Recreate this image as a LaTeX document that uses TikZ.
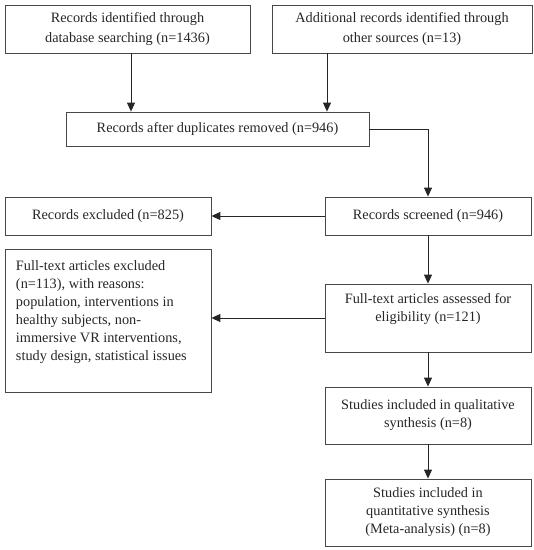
\documentclass[tikz,border=0pt]{standalone}
\usepackage{fontspec}
\setmainfont{Liberation Serif}
\usetikzlibrary{arrows.meta}
\begin{document}
\begin{tikzpicture}[x=1pt,y=-1pt,
  box/.style={draw=black!72, line width=0.8pt, inner sep=0pt, align=center, text=black!85,
    font=\fontsize{14.3}{18}\selectfont},
  topbox/.style={box, font=\fontsize{14.3}{19.5}\selectfont},
  arr/.style={draw=black!85, line width=0.9pt, -{Triangle[length=9pt,width=8pt]}},
  ln/.style={draw=black!80, line width=0.8pt}]
\useasboundingbox (0,0) rectangle (534,550);
\node[topbox, minimum width=245pt, minimum height=48pt] (db) at (127.5,29)
  {Records identified through\\database searching (n=1436)};
\node[topbox, minimum width=260pt, minimum height=48pt] (other) at (402,29)
  {Additional records identified through\\other sources (n=13)};
\node[box, minimum width=303pt, minimum height=34pt] (dup) at (217.5,129)
  {Records after duplicates removed (n=946)};
\node[box, minimum width=206pt, minimum height=38pt] (excl) at (108,216)
  {Records excluded (n=825)};
\node[box, minimum width=206pt, minimum height=38pt] (screen) at (428,216)
  {Records screened (n=946)};
\node[box, minimum width=206pt, minimum height=143pt] (ftexcl) at (108,320.5)
  {\begin{minipage}[c][143pt][t]{206pt}\vspace*{12pt}\raggedright\leftskip=11pt
   Full-text articles excluded\\
   (n=113), with reasons:\\
   population, interventions in\\
   healthy subjects, non-\\
   immersive VR interventions,\\
   study design, statistical issues\end{minipage}};
\node[box, minimum width=206pt, minimum height=68pt] (assess) at (428,318)
  {\begin{minipage}[c][68pt][t]{206pt}\vspace*{9.5pt}\centering
   Full-text articles assessed for\\eligibility (n=121)\end{minipage}};
\node[box, minimum width=206pt, minimum height=57pt] (qual) at (428,415.5)
  {Studies included in qualitative\\synthesis (n=8)};
\node[box, minimum width=206pt, minimum height=67pt] (quant) at (428,512.5)
  {Studies included in\\quantitative synthesis\\(Meta-analysis) (n=8)};
\coordinate (c1) at (131,0);
\coordinate (c2) at (327,0);
\draw[arr] (db.south -| c1) -- (dup.north -| c1);
\draw[arr] (other.south -| c2) -- (dup.north -| c2);
\draw[arr] (dup.east) -| (screen.north);
\draw[arr] (screen.west) -- (excl.east);
\draw[arr] (screen.south) -- (assess.north);
\draw[arr] (assess.west) -- (assess.west -| ftexcl.east);
\draw[arr] (assess.south) -- (qual.north);
\draw[arr] (qual.south) -- (quant.north);
\end{tikzpicture}
\end{document}
